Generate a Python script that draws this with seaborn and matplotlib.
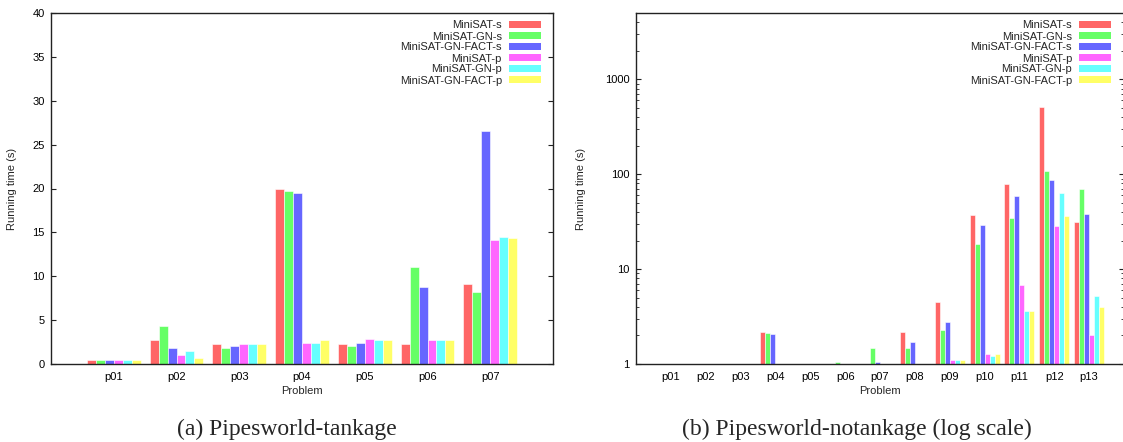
import numpy as np
import pandas as pd
import seaborn as sns
import matplotlib
matplotlib.use('Agg')
import matplotlib.pyplot as plt
from matplotlib.patches import Patch
from matplotlib.ticker import LogLocator, FixedLocator, NullFormatter

# series names and colours (gnuplot style light fills)
solvers = ['MiniSAT-s', 'MiniSAT-GN-s', 'MiniSAT-GN-FACT-s',
           'MiniSAT-p', 'MiniSAT-GN-p', 'MiniSAT-GN-FACT-p']
colors = ['#ff6666', '#66ff66', '#6666ff', '#ff66ff', '#66ffff', '#ffff66']

# (a) Pipesworld-tankage, running time in seconds
problems_a = ['p01', 'p02', 'p03', 'p04', 'p05', 'p06', 'p07']
minisat_s_a = [0.42, 2.68, 2.23, 19.9, 2.23, 2.32, 9.06]
minisat_gn_s_a = [0.42, 4.32, 1.88, 19.7, 2.00, 11.11, 8.26]
minisat_gnf_s_a = [0.42, 1.77, 2.00, 19.5, 2.45, 8.83, 26.5]
minisat_p_a = [0.42, 0.97, 2.23, 2.34, 2.80, 2.78, 14.08]
minisat_gn_p_a = [0.42, 1.43, 2.23, 2.34, 2.68, 2.78, 14.42]
minisat_gnf_p_a = [0.42, 0.63, 2.23, 2.68, 2.68, 2.78, 14.31]

# (b) Pipesworld-notankage, log scale; nan = not visible above 1 s
problems_b = ['p01', 'p02', 'p03', 'p04', 'p05', 'p06', 'p07',
              'p08', 'p09', 'p10', 'p11', 'p12', 'p13']
nan = np.nan
minisat_s_b = [nan, nan, nan, 2.17, nan, nan, nan, 2.20, 4.46, 37.0, 78.6, 511, 31.2]
minisat_gn_s_b = [nan, nan, nan, 2.10, nan, 1.04, 1.49, 1.46, 2.26, 18.3, 34.4, 108, 69.6]
minisat_gnf_s_b = [nan, nan, nan, 2.05, nan, nan, 1.06, 1.69, 2.74, 29.0, 58.7, 86.7, 37.9]
minisat_p_b = [nan, nan, nan, nan, nan, nan, nan, nan, 1.09, 1.29, 6.74, 28.3, 2.00]
minisat_gn_p_b = [nan, nan, nan, nan, nan, nan, nan, nan, 1.09, 1.20, 3.58, 63.1, 5.16]
minisat_gnf_p_b = [nan, nan, nan, nan, nan, nan, nan, nan, 1.09, 1.26, 3.58, 36.1, 3.95]


def to_long(problems, series):
    rows = []
    for name, vals in zip(solvers, series):
        for p, v in zip(problems, vals):
            rows.append({'problem': p, 'solver': name, 'time': v})
    return pd.DataFrame(rows).dropna()


df_a = to_long(problems_a, [minisat_s_a, minisat_gn_s_a, minisat_gnf_s_a,
                            minisat_p_a, minisat_gn_p_a, minisat_gnf_p_a])
df_b = to_long(problems_b, [minisat_s_b, minisat_gn_s_b, minisat_gnf_s_b,
                            minisat_p_b, minisat_gn_p_b, minisat_gnf_p_b])

sns.set_theme(style='white')
plt.rcParams['font.family'] = ['Liberation Sans', 'DejaVu Sans']
plt.rcParams['axes.edgecolor'] = '#222222'
plt.rcParams['axes.linewidth'] = 1.0

fig = plt.figure(figsize=(11.23, 4.42), dpi=100)
ax1 = fig.add_axes([51 / 1123, 1 - 364 / 442, 502 / 1123, 351 / 442])
ax2 = fig.add_axes([636 / 1123, 1 - 364 / 442, 488 / 1123, 351 / 442])


def draw(ax, df, problems):
    sns.barplot(data=df, x='problem', y='time', hue='solver',
                order=problems, hue_order=solvers, palette=colors,
                width=6 / 7, errorbar=None, legend=False,
                edgecolor='white', linewidth=0.4, saturation=1, ax=ax)
    ax.set_xlim(-1, len(problems))
    ax.set_xlabel('Problem', fontsize=8)
    ax.set_ylabel('Running time (s)', fontsize=8)
    ax.yaxis.label.set_verticalalignment('center')
    ax.xaxis.set_label_coords(0.5, -27 / 351)
    ax.xaxis.label.set_verticalalignment('center')
    ax.tick_params(axis='x', direction='in', length=3.5, width=0.8,
                   labelsize=8, pad=6, colors='#222222', labelcolor='black')
    ax.tick_params(axis='y', which='both', direction='in', left=True, right=True,
                   labelsize=8, pad=4.5, colors='#222222', labelcolor='black')
    ax.tick_params(axis='y', which='major', length=3.6, width=0.8)
    ax.tick_params(axis='y', which='minor', length=2.0, width=0.6)
    handles = [Patch(facecolor=c, edgecolor='none', label=s)
               for c, s in zip(colors, solvers)]
    return handles


legend_kw = dict(loc='upper right', frameon=False, markerfirst=False, fontsize=8,
                 borderpad=0, borderaxespad=0, handlelength=2.88, handleheight=0.55,
                 handletextpad=0.63, labelspacing=0.09)

handles = draw(ax1, df_a, problems_a)
ax1.set_ylim(0, 40)
ax1.yaxis.set_major_locator(FixedLocator(np.arange(0, 41, 5)))
ax1.yaxis.set_label_coords(-38.5 / 502, 0.5)
ax1.legend(handles=handles, bbox_to_anchor=(1 - 12 / 502, 1 - 7.5 / 351), **legend_kw)

draw(ax2, df_b, problems_b)
ax2.set_yscale('log')
ax2.set_ylim(1, 5000)
ax2.yaxis.set_major_locator(FixedLocator([1, 10, 100, 1000]))
ax2.yaxis.set_major_formatter(matplotlib.ticker.FuncFormatter(lambda v, p: f'{v:g}'))
ax2.yaxis.set_minor_locator(LogLocator(base=10, subs=np.arange(2, 10), numticks=20))
ax2.yaxis.set_minor_formatter(NullFormatter())
ax2.yaxis.set_label_coords(-54.5 / 488, 0.5)
ax2.legend(handles=handles, bbox_to_anchor=(1 - 13 / 488, 1 - 7.5 / 351), **legend_kw)

# sub-figure captions
fig.text(287 / 1123, 1 - 429 / 442, '(a) Pipesworld-tankage', ha='center', va='center',
         fontsize=17, family=['Liberation Serif', 'DejaVu Serif'])
fig.text(857 / 1123, 1 - 429 / 442, '(b) Pipesworld-notankage (log scale)', ha='center',
         va='center', fontsize=17, family=['Liberation Serif', 'DejaVu Serif'])

fig.savefig('out.png', dpi=100)
